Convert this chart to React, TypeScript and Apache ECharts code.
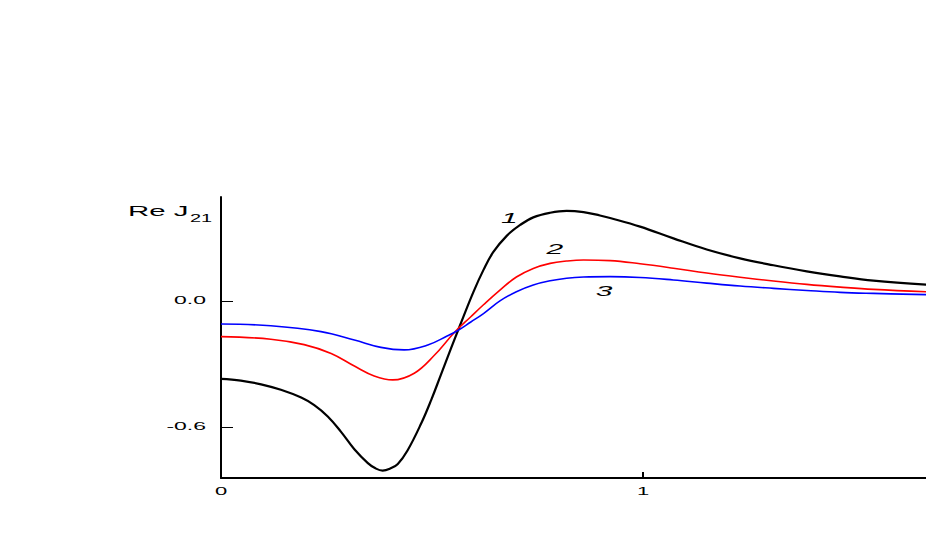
import React, { useEffect, useRef } from "react";
import * as echarts from "echarts";

const xTicks = [0, 1];
const yTicks = [-0.6, 0.0];

const curve1: [number, number][] = [
  [0, -0.371], [0.047, -0.379], [0.095, -0.397], [0.142, -0.423], [0.19, -0.46],
  [0.221, -0.496], [0.253, -0.55], [0.284, -0.622], [0.316, -0.706], [0.348, -0.772],
  [0.366, -0.797], [0.383, -0.808], [0.401, -0.798], [0.419, -0.776], [0.442, -0.712],
  [0.474, -0.585], [0.498, -0.472], [0.521, -0.352], [0.545, -0.226], [0.566, -0.118],
  [0.598, 0.042], [0.622, 0.148], [0.645, 0.232], [0.677, 0.31], [0.709, 0.362],
  [0.74, 0.398], [0.78, 0.42], [0.819, 0.429], [0.859, 0.423], [0.898, 0.407],
  [0.922, 0.395], [0.993, 0.354], [1.072, 0.298], [1.151, 0.245], [1.23, 0.203],
  [1.309, 0.17], [1.388, 0.141], [1.467, 0.117], [1.546, 0.097], [1.671, 0.078],
];

const curve2: [number, number][] = [
  [0, -0.17], [0.118, -0.182], [0.197, -0.208], [0.261, -0.25], [0.316, -0.31],
  [0.363, -0.357], [0.407, -0.376], [0.458, -0.344], [0.505, -0.26], [0.553, -0.15],
  [0.592, -0.075], [0.622, -0.018], [0.661, 0.052], [0.7, 0.114], [0.74, 0.155],
  [0.78, 0.179], [0.819, 0.19], [0.859, 0.195], [0.922, 0.192], [0.993, 0.177],
  [1.072, 0.156], [1.151, 0.133], [1.23, 0.113], [1.309, 0.095], [1.388, 0.079],
  [1.467, 0.066], [1.546, 0.055], [1.671, 0.044],
];

const curve3: [number, number][] = [
  [0, -0.11], [0.118, -0.118], [0.237, -0.146], [0.316, -0.186], [0.379, -0.221],
  [0.434, -0.233], [0.49, -0.21], [0.537, -0.166], [0.56, -0.142], [0.592, -0.1],
  [0.622, -0.06], [0.661, 0.0], [0.7, 0.044], [0.74, 0.076], [0.78, 0.096],
  [0.819, 0.108], [0.859, 0.114], [0.922, 0.116], [0.993, 0.112], [1.072, 0.1],
  [1.151, 0.085], [1.23, 0.071], [1.309, 0.06], [1.388, 0.05], [1.467, 0.041],
  [1.546, 0.036], [1.671, 0.03],
];

const curveLabels = ["1", "2", "3"];
const curveLabelPos: [number, number][] = [
  [0.683, 0.394],
  [0.791, 0.246],
  [0.908, 0.048],
];
const titleMain = "Re J";
const titleSub = "21";

const colors = ["#000000", "#ff0000", "#0000ff"];
const widths = [2.2, 1.6, 1.6];
const FONT = "Liberation Sans, Arial, sans-serif";

export default function App() {
  const ref = useRef<HTMLDivElement>(null);
  useEffect(() => {
    if (!ref.current) return;
    const chart = echarts.init(ref.current, null, { renderer: "svg" });
    const curves = [curve1, curve2, curve3];
    chart.setOption({
      animation: false,
      backgroundColor: "#ffffff",
      grid: { left: 221, top: 197, right: 0, bottom: 67, containLabel: false },
      xAxis: {
        type: "value",
        min: 0,
        max: 1.6706,
        axisLine: { show: true, onZero: false, lineStyle: { color: "#000", width: 2 } },
        axisTick: { show: true, inside: true, length: 6, customValues: xTicks, lineStyle: { color: "#000", width: 2 } },
        axisLabel: { show: false },
        splitLine: { show: false },
      },
      yAxis: {
        type: "value",
        min: -0.843,
        max: 0.495,
        axisLine: { show: true, onZero: false, lineStyle: { color: "#000", width: 2 } },
        axisTick: { show: true, inside: true, length: 12, customValues: yTicks, lineStyle: { color: "#000", width: 1 } },
        axisLabel: { show: false },
        splitLine: { show: false },
      },
      series: curves.map((c, i) => ({
        type: "line",
        data: c,
        smooth: 0.4,
        symbol: "none",
        lineStyle: { color: colors[i], width: widths[i] },
      })),
    });

    const texts: any[] = [];
    const mk = (
      text: string, x: number, y: number, size: number, sx: number,
      align: string, italic = false
    ) => ({
      type: "text",
      x, y,
      scaleX: sx,
      silent: true,
      style: {
        text,
        fill: "#000",
        fontFamily: FONT,
        fontSize: size,
        fontStyle: italic ? "italic" : "normal",
        align, textAlign: align,
        verticalAlign: "middle", textVerticalAlign: "middle",
      },
    });
    yTicks.forEach((v) => {
      const p = chart.convertToPixel({ gridIndex: 0 }, [0, v]) as number[];
      texts.push(mk(v.toFixed(1), p[0] - 15, p[1], 10, 2.3, "right"));
    });
    xTicks.forEach((v) => {
      const p = chart.convertToPixel({ gridIndex: 0 }, [v, -0.843]) as number[];
      texts.push(mk(String(v), p[0], p[1] + 13, 10.5, 2.1, "center"));
    });
    curveLabels.forEach((t, i) => {
      const p = chart.convertToPixel({ gridIndex: 0 }, curveLabelPos[i]) as number[];
      texts.push(mk(t, p[0], p[1], 15, 2.0, "center", true));
    });
    texts.push(mk(titleMain, 128, 211, 14, 2.1, "left"));
    texts.push(mk(titleSub, 190, 218, 10.5, 1.9, "left"));
    chart.setOption({ graphic: texts });

    return () => chart.dispose();
  }, []);
  return (
    <div
      ref={ref}
      style={{ position: "fixed", left: 0, top: 0, width: 926, height: 545, background: "#fff" }}
    />
  );
}
